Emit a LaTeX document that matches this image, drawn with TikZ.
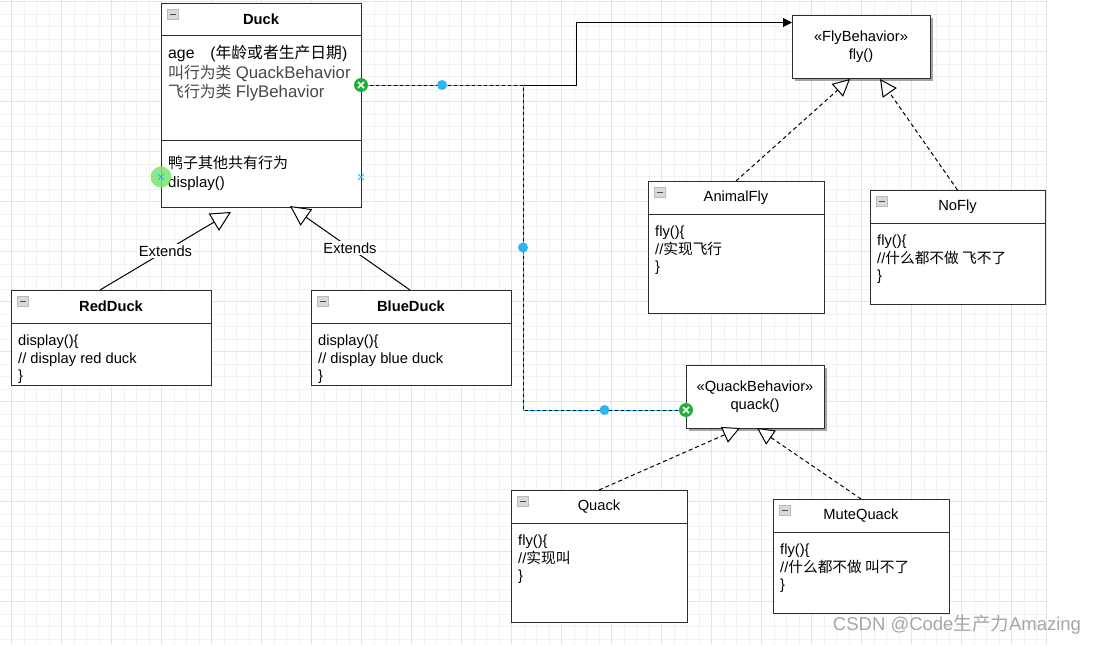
\documentclass[tikz,border=0pt]{standalone}
\usepackage{fontspec}
\setmainfont{Liberation Sans}
\newfontfamily\cjk{Noto Sans CJK SC}
\usetikzlibrary{arrows.meta,shadows,shapes.misc}

\newcommand\umlsize{\fontsize{14.7}{17.5}\selectfont}
\newcommand\attrsize{\fontsize{15.8}{19.5}\selectfont}
\newcommand\attrlatin{\fontsize{16.8}{19.5}\selectfont}

\definecolor{boxline}{RGB}{45,45,45}
\definecolor{selblue}{RGB}{41,182,242}
\definecolor{markgreen}{RGB}{28,178,58}
\definecolor{hovergreen}{RGB}{120,230,110}

\begin{document}
\begin{tikzpicture}[x=1pt, y=-1pt,
	gridminor/.style={draw=gray!10, line width=0.6pt},
	gridmajor/.style={draw=gray!21, line width=0.6pt},
	classhead/.style={draw=boxline, line width=1pt, fill=white, minimum height=33pt, inner sep=0pt, outer sep=0pt, anchor=north west, font=\umlsize},
	boldhead/.style={classhead, font=\umlsize\bfseries},
	foldicon/.style={draw=gray!55, fill=gray!30, line width=0.6pt, minimum width=11pt, minimum height=10pt, inner sep=0pt, anchor=north west,
		path picture={\draw[black!70, line width=1.3pt] ([xshift=2.2pt]path picture bounding box.west) -- ([xshift=-2.2pt]path picture bounding box.east);}},
	classbody/.style={draw=boxline, line width=1pt, fill=white, inner sep=0pt, outer sep=0pt, anchor=north west},
	bodytext/.style={anchor=north west, inner sep=0pt, align=left, font=\umlsize},
	iface/.style={draw=boxline, line width=1pt, fill=white, minimum width=138pt, minimum height=63pt, inner sep=0pt, outer sep=0pt, align=center, anchor=north west, font=\umlsize,
		drop shadow={shadow xshift=3pt, shadow yshift=-3pt, fill=black!50, opacity=.7}},
	assoc/.style={draw=black, line width=1pt, -{Triangle[length=9pt,width=9pt]}},
	selected/.style={-, postaction={draw=selblue, line width=1pt, dash pattern=on 3pt off 3pt}},
	handle/.style={circle, fill=selblue, minimum size=10pt, inner sep=0pt},
	endmark/.style={circle, fill=markgreen, minimum size=14pt, inner sep=0pt,
		path picture={\draw[white, line width=1.5pt] ([shift={(-3pt,-3pt)}]path picture bounding box.center) -- ([shift={(3pt,3pt)}]path picture bounding box.center)
			([shift={(-3pt,3pt)}]path picture bounding box.center) -- ([shift={(3pt,-3pt)}]path picture bounding box.center);}},
	hoverpt/.style={circle, fill=hovergreen, fill opacity=.85, minimum size=21pt, inner sep=0pt},
	xpt/.style={cross out, draw=selblue, line width=0.9pt, minimum size=5pt, inner sep=0pt},
	extends/.style={draw=black, line width=1pt, -{Triangle[fill=white, length=20pt, width=20pt]}},
	realize/.style={draw=black, line width=1pt, dash pattern=on 4pt off 3pt, -{Triangle[fill=white, length=17pt, width=17pt]}},
	lbl/.style={fill=white, inner sep=1.5pt, font=\umlsize},
	wmark/.style={text=gray!70, font=\fontsize{18.5}{20}\selectfont}
]
	\useasboundingbox (0,0) rectangle (1097,645);
	\fill[white] (0,0) rectangle (1097,645);
	%grid
		\foreach \x in {-0.8,11.7,...,1046} \draw[gridminor] (\x,0) -- (\x,645);
		\foreach \y in {1.7,14.2,...,645} \draw[gridminor] (0,\y) -- (1046,\y);
		\foreach \x in {11.7,61.7,...,1046} \draw[gridmajor] (\x,0) -- (\x,645);
		\foreach \y in {1.7,51.7,...,645} \draw[gridmajor] (0,\y) -- (1046,\y);
		\draw[gridmajor] (1046,0) -- (1046,645);

	%Duck
		\node[boldhead, minimum width=200pt, minimum height=32pt] (duckh) at (161,3) {Duck};
		\node[foldicon] (duckic) at ([shift={(6pt,-6pt)}]duckh.north west) {};
		\node[classbody, minimum width=200pt, minimum height=105pt] (duckattr) at (duckh.south west) {};
		\node[bodytext, font=\attrsize] (duckattrt) at ([shift={(7pt,-10pt)}]duckattr.north west)
			{age\quad({\cjk 年龄或者生产日期})\\
			 \textcolor{black!72}{{\cjk 叫行为类} {\attrlatin QuackBehavior}}\\
			 \textcolor{black!72}{{\cjk 飞行为类} {\attrlatin FlyBehavior}}};
		\node[classbody, minimum width=200pt, minimum height=67pt] (duckmeth) at (duckattr.south west) {};
		\node[bodytext, font=\fontsize{15}{19}\selectfont] (duckmetht) at ([shift={(7pt,-15.5pt)}]duckmeth.north west)
			{{\cjk 鸭子其他共有行为}\\display()};

	%RedDuck
		\node[boldhead, minimum width=200pt] (redh) at (11,290) {RedDuck};
		\node[foldicon] (redic) at ([shift={(6pt,-6pt)}]redh.north west) {};
		\node[classbody, minimum width=200pt, minimum height=62pt] (redb) at (redh.south west) {};
		\node[bodytext] (redt) at ([shift={(7pt,-12pt)}]redb.north west) {display()\{\\// display red duck\\\}};

	%BlueDuck
		\node[boldhead, minimum width=200pt] (blueh) at (311,290) {BlueDuck};
		\node[foldicon] (blueic) at ([shift={(6pt,-6pt)}]blueh.north west) {};
		\node[classbody, minimum width=200pt, minimum height=62pt] (blueb) at (blueh.south west) {};
		\node[bodytext] (bluet) at ([shift={(7pt,-12pt)}]blueb.north west) {display()\{\\// display blue duck\\\}};

	%FlyBehavior + QuackBehavior
		\node[iface] (flyb) at (792,15) {«FlyBehavior»\\fly()};
		\node[iface] (quackb) at (686,365) {«QuackBehavior»\\quack()};

	%AnimalFly
		\node[classhead, minimum width=176pt] (animalh) at (648,181) {AnimalFly};
		\node[foldicon] (animalic) at ([shift={(6pt,-6pt)}]animalh.north west) {};
		\node[classbody, minimum width=176pt, minimum height=99pt] (animalb) at (animalh.south west) {};
		\node[bodytext] (animalt) at ([shift={(7pt,-12pt)}]animalb.north west) {fly()\{\\//{\cjk 实现飞行}\\\}};

	%NoFly
		\node[classhead, minimum width=175pt] (noflyh) at (870,190) {NoFly};
		\node[foldicon] (noflyic) at ([shift={(6pt,-6pt)}]noflyh.north west) {};
		\node[classbody, minimum width=175pt, minimum height=81pt] (noflyb) at (noflyh.south west) {};
		\node[bodytext] (noflyt) at ([shift={(7pt,-12pt)}]noflyb.north west) {fly()\{\\//{\cjk 什么都不做 飞不了}\\\}};

	%Quack
		\node[classhead, minimum width=176pt] (quackh) at (511,490) {Quack};
		\node[foldicon] (quackic) at ([shift={(6pt,-6pt)}]quackh.north west) {};
		\node[classbody, minimum width=176pt, minimum height=99pt] (quackbd) at (quackh.south west) {};
		\node[bodytext] (quackt) at ([shift={(7pt,-12pt)}]quackbd.north west) {fly()\{\\//{\cjk 实现叫}\\\}};

	%MuteQuack
		\node[classhead, minimum width=176pt] (muteh) at (773,499) {MuteQuack};
		\node[foldicon] (muteic) at ([shift={(6pt,-6pt)}]muteh.north west) {};
		\node[classbody, minimum width=176pt, minimum height=81pt] (muteb) at (muteh.south west) {};
		\node[bodytext] (mutet) at ([shift={(7pt,-12pt)}]muteb.north west) {fly()\{\\//{\cjk 什么都不做 叫不了}\\\}};

	%ports
		\coordinate (dport) at ([yshift=2.5pt]duckattr.east);
		\coordinate (flyin) at ([yshift=24pt]flyb.west);
		\coordinate (quackin) at ([yshift=-13.5pt]quackb.west);

	%associations
		\draw[assoc] (dport) -- ++(215,0) |- (flyin);
		\draw[assoc, selected] (dport) -- node[handle] (h1) {} ++(162,0)
			|- node[handle, pos=.25] (h2) {} node[handle, pos=.75] (h3) {} (quackin);

	%extends
		\draw[extends] ([xshift=-11pt]redh.north) -- node[lbl] (ext1) {Extends} ([shift={(-30pt,-5pt)}]duckmeth.south);
		\draw[extends] ([xshift=-1pt]blueh.north) -- node[lbl] (ext2) {Extends} ([shift={(29pt,1pt)}]duckmeth.south);

	%realizations
		\draw[realize] (animalh.north) -- ([shift={(-11pt,-1pt)}]flyb.south);
		\draw[realize] (noflyh.north) -- ([shift={(19pt,-1pt)}]flyb.south);
		\draw[realize] (quackh.north) -- ([xshift=-15pt]quackb.south);
		\draw[realize] (muteh.north) -- ([xshift=2pt]quackb.south);

	%selection marks
		\node[endmark] (m1) at (dport) {};
		\node[endmark] (m2) at (quackin) {};
		\node[hoverpt] (hov) at ([yshift=-3.5pt]duckmeth.west) {};
		\node[xpt] (hovx) at (hov) {};
		\node[xpt] (portx) at ([yshift=-3.5pt]duckmeth.east) {};

	%watermark
		\node[wmark] (wm) at (957,625) {CSDN @Code{\cjk 生产力}Amazing};
\end{tikzpicture}
\end{document}
